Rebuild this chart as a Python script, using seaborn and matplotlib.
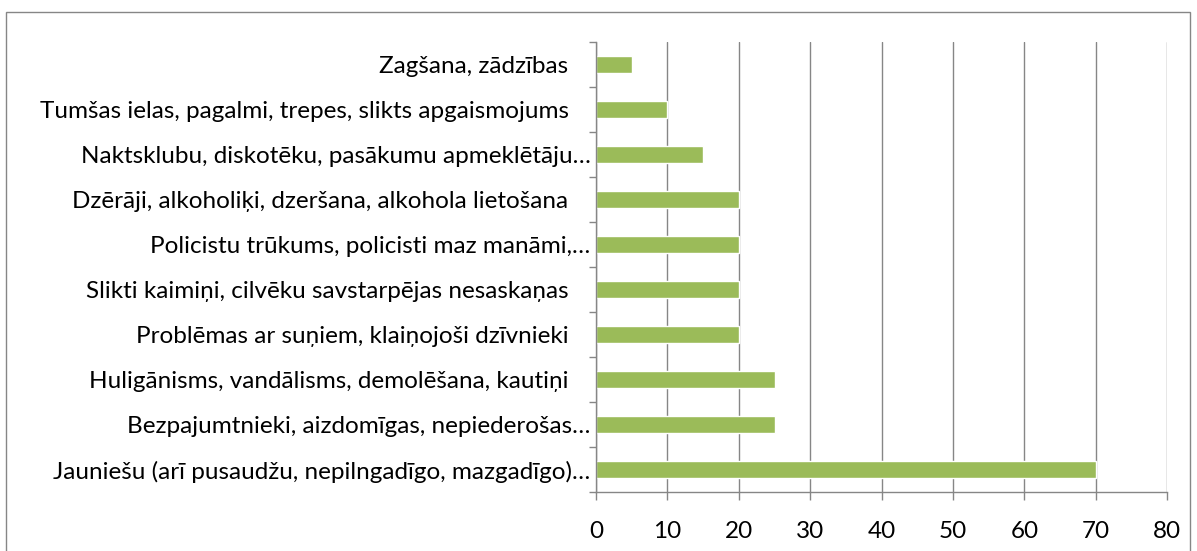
import numpy as np
import pandas as pd
import seaborn as sns
import matplotlib.pyplot as plt
import matplotlib.transforms as mtransforms
from matplotlib.patches import Rectangle

kategorijas = [
    "Zagšana, zādzības",
    "Tumšas ielas, pagalmi, trepes, slikts apgaismojums",
    "Naktsklubu, diskotēku, pasākumu apmeklētāju…",
    "Dzērāji, alkoholiķi, dzeršana, alkohola lietošana",
    "Policistu trūkums, policisti maz manāmi,…",
    "Slikti kaimiņi, cilvēku savstarpējas nesaskaņas",
    "Problēmas ar suņiem, klaiņojoši dzīvnieki",
    "Huligānisms, vandālisms, demolēšana, kautiņi",
    "Bezpajumtnieki, aizdomīgas, nepiederošas…",
    "Jauniešu (arī pusaudžu, nepilngadīgo, mazgadīgo)…",
]
vertibas = [5, 10, 15, 20, 20, 20, 20, 25, 25, 70]
x_ticks = [0, 10, 20, 30, 40, 50, 60, 70, 80]

dati = pd.DataFrame({"kategorija": kategorijas, "vertiba": vertibas})

sns.set_style("white")
plt.rcParams['font.family'] = ['Lato', 'DejaVu Sans']

fig = plt.figure(figsize=(11.97, 5.51), dpi=100)
ax = fig.add_axes([0.498, 0.107, 0.477, 0.817])

sns.barplot(data=dati, x="vertiba", y="kategorija", orient="h",
            color="#9BBB59", width=0.37, saturation=1, ax=ax)

ax.set_xlim(0, 80)
ax.set_ylim(len(kategorijas) - 0.5, -0.5)
ax.set_xticks(x_ticks)
ax.set_xticklabels([str(t) for t in x_ticks], fontsize=17.5, color="black")
ax.set_xlabel("")
ax.set_ylabel("")
ax.tick_params(axis="y", labelsize=17.5, labelcolor="black", length=0, pad=4)
ax.set_yticks(np.arange(-0.5, len(kategorijas), 1), minor=True)
ax.tick_params(axis="y", which="minor", left=True, length=5, color="#868686", width=1)
ax.tick_params(axis="x", bottom=True, length=6, color="#868686", width=1, pad=15)

# labels bez daudzpunktes stāv tālāk no ass
nobide = mtransforms.ScaledTranslation(-22 / 100, 0, fig.dpi_scale_trans)
for lbl in ax.get_yticklabels():
    if not lbl.get_text().endswith("…"):
        lbl.set_transform(lbl.get_transform() + nobide)

ax.grid(axis="x", color="#868686", linewidth=1)
ax.set_axisbelow(True)
for s in ["top", "right"]:
    ax.spines[s].set_visible(False)
for s in ["left", "bottom"]:
    ax.spines[s].set_color("#868686")
    ax.spines[s].set_linewidth(1)

fig.patches.append(Rectangle((6 / 1197, -0.05), 1184 / 1197, 1.05 - 12 / 551,
                             transform=fig.transFigure, fill=False,
                             edgecolor="#868686", linewidth=1))

fig.savefig("out.png", dpi=100)
